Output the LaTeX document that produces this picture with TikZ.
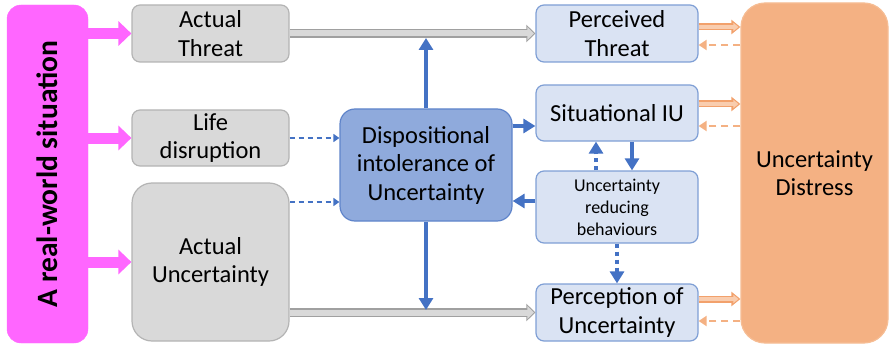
\documentclass[tikz,border=0pt]{standalone}
\usepackage{fontspec}
\setmainfont{Carlito}
\usetikzlibrary{arrows.meta,positioning}
\definecolor{realpink}{HTML}{FF66FF}
\definecolor{greyin}{HTML}{D9D9D9}
\definecolor{greybd}{HTML}{B4B4B4}
\definecolor{dispin}{HTML}{8FAADC}
\definecolor{dispbd}{HTML}{5F84CA}
\definecolor{lightin}{HTML}{DAE3F3}
\definecolor{lightbd}{HTML}{7F9FD5}
\definecolor{distin}{HTML}{F4B183}
\definecolor{distbd}{HTML}{F6BD94}
\definecolor{linkblue}{HTML}{4472C4}
\definecolor{linkorange}{HTML}{F2A16C}
\definecolor{orangein}{HTML}{F9CDAF}
\definecolor{linkgrey}{HTML}{A0A0A0}

\begin{document}
\begin{tikzpicture}
        [ x=1pt, y=-1pt,
          every node/.style = {align=center, inner sep=2pt,
                               font=\fontsize{24.5}{28.5}\selectfont},
          box/.style = {draw, line width=1.2pt, rounded corners=8pt},
          grey node/.style = {box, draw=greybd, fill=greyin, minimum width=157pt},
          light node/.style = {box, draw=lightbd, fill=lightin, minimum width=162pt},
          situation node/.style = {draw=realpink, fill=realpink, rounded corners=14pt,
                                   font=\fontsize{29.5}{34}\selectfont\bfseries},
          pink link/.style = {draw=realpink, line width=11pt,
                              -{Triangle[length=13pt,width=24pt]}},
          grey link/.style = {draw=linkgrey, line width=9pt,
                              -{Triangle[length=9pt,width=17pt]},
                              postaction={draw=greyin, line width=6pt, shorten >=1.5pt,
                                          -{Triangle[length=6.5pt,width=12.5pt]}}},
          blue link/.style = {draw=linkblue, line width=4pt,
                              -{Triangle[length=12pt,width=14pt]}},
          dashed link/.style = {draw=linkblue, line width=2pt, dash pattern=on 5pt off 4pt,
                                -{Triangle[length=6pt,width=8pt]}},
          dotted link/.style = {draw=linkblue, line width=4pt, dash pattern=on 4pt off 4pt,
                                -{Triangle[length=12pt,width=14pt]}},
          orange link/.style = {draw=linkorange, line width=7pt,
                                -{Triangle[length=9pt,width=14pt]},
                                postaction={draw=orangein, line width=3.5pt, shorten >=2pt,
                                            -{Triangle[length=5pt,width=8pt]}}},
          back link/.style = {draw=distin, line width=2.5pt, dash pattern=on 7pt off 5pt,
                              -{Triangle[length=8pt,width=10pt]}}]
        \useasboundingbox (0,0) rectangle (893,350);

        % left column
        \node[situation node, rotate=90, minimum width=338pt, minimum height=81pt]
              (situation) at (47.5,174) {A real-world situation};
        \node[grey node, minimum height=57pt] (threat) at (210.5,33.5) {Actual\\Threat};
        \node[grey node, minimum height=56pt] (disruption) at (210.5,138) {Life\\disruption};
        \node[grey node, minimum height=158pt, rounded corners=20pt]
              (actual) at (210.5,262) {Actual\\Uncertainty};

        % middle
        \node[box, draw=dispbd, fill=dispin, rounded corners=15pt, minimum width=172pt,
              minimum height=112pt] (dispositional) at (426,165)
              {Dispositional\\intolerance of\\Uncertainty};

        % right column
        \node[light node, minimum height=57pt] (perceived) at (617,33.5) {Perceived\\Threat};
        \node[light node, minimum height=56pt] (situational) at (617,113) {Situational IU};
        \node[light node, minimum height=72pt, font=\fontsize{18}{22}\selectfont]
              (reducing) at (617,207) {Uncertainty\\reducing\\behaviours};
        \node[light node, minimum height=57pt] (perception) at (617,312.5)
              {Perception of\\Uncertainty};
        \node[box, draw=distbd, fill=distin, rounded corners=24pt, minimum width=147pt,
              minimum height=340pt] (distress) at (814.5,173) {Uncertainty\\Distress};

        % pink arrows
        \draw[pink link] (situation.south |- threat.west) -- (threat.west);
        \draw[pink link] (situation.south |- disruption.west) -- (disruption.west);
        \draw[pink link] (situation.south |- actual.west) -- (actual.west);

        % grey arrows
        \draw[grey link] (threat.east) -- (perceived.west);
        \draw[grey link] (actual.east |- perception.west) -- (perception.west);

        % dispositional IU links
        \coordinate (upper meet) at (dispositional.north |- 0,38);
        \coordinate (lower meet) at (dispositional.south |- 0,310);
        \draw[blue link] (dispositional.north) -- (upper meet);
        \draw[blue link] (dispositional.south) -- (lower meet);
        \coordinate (to situational) at ([yshift=-13pt]situational.west);
        \draw[blue link] (dispositional.east |- to situational) -- (to situational);
        \coordinate (from reducing) at ([yshift=6pt]reducing.west);
        \draw[blue link] (from reducing) -- (dispositional.east |- from reducing);
        \draw[dashed link] (disruption.east) -- (disruption.east -| dispositional.west);
        \coordinate (from actual) at ([yshift=-37pt]dispositional.west);
        \draw[dashed link] (actual.east |- from actual) -- (from actual);

        % situational IU and behaviours
        \draw[dotted link] ([xshift=-21pt]reducing.north) -- ([xshift=-21pt]situational.south);
        \draw[blue link] ([xshift=15pt]situational.south) -- ([xshift=15pt]reducing.north);
        \draw[dotted link] (reducing.south) -- (perception.north);

        % distress links
        \draw[orange link] ([yshift=6.5pt]perceived.east) -- ([yshift=6.5pt]perceived.east -| distress.west);
        \draw[back link] ([yshift=-11.5pt]perceived.east -| distress.west) -- ([yshift=-11.5pt]perceived.east);
        \draw[orange link] ([yshift=9pt]situational.east) -- ([yshift=9pt]situational.east -| distress.west);
        \draw[back link] ([yshift=-13pt]situational.east -| distress.west) -- ([yshift=-13pt]situational.east);
        \draw[orange link] ([yshift=13.5pt]perception.east) -- ([yshift=13.5pt]perception.east -| distress.west);
        \draw[back link] ([yshift=-8.5pt]perception.east -| distress.west) -- ([yshift=-8.5pt]perception.east);
    \end{tikzpicture}
\end{document}
